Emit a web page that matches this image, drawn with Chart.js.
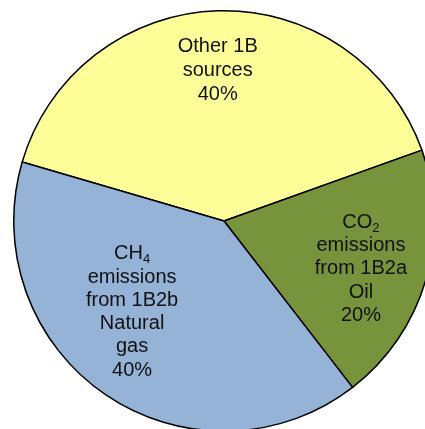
<!DOCTYPE html>
<html>
<head>
<meta charset="utf-8">
<script src="https://cdn.jsdelivr.net/npm/chart.js@4"></script>
<style>
  html, body { margin: 0; padding: 0; background: #fff; overflow: hidden; width: 425px; height: 429px; }
  #wrap { position: absolute; left: 13px; top: 10px; width: 422px; height: 422px; }
</style>
</head>
<body>
<div id="wrap"><canvas id="chart"></canvas></div>
<script>
// data
const categories = ["Other 1B sources", "CO2 emissions from 1B2a Oil", "CH4 emissions from 1B2b Natural gas"]
const shares = [40, 20, 40]
// label lines, "_" marks a subscript
const labelLines = [
    ["Other 1B", "sources"],
    ["CO_2", "emissions", "from 1B2a", "Oil"],
    ["CH_4", "emissions", "from 1B2b", "Natural", "gas"],
]
const sliceColors = ["#ffff99", "#77933c", "#95b3d7"]

// where the label block sits inside each slice: radius fraction, angle nudge (deg)
const labelLayout = [
    { frac: 0.716, nudge: -0.7, lineHeight: 24 },
    { frac: 0.69, nudge: 3, lineHeight: 23.3 },
    { frac: 0.615, nudge: 11, lineHeight: 23.3 },
]

const FONT = "20px 'Liberation Sans', Arial, sans-serif"
const SUB_FONT = "13px 'Liberation Sans', Arial, sans-serif"

const measureLine = (ctx, line) => {
    const [main, sub] = line.split("_")
    ctx.font = FONT
    let w = ctx.measureText(main).width
    if (sub) {
        ctx.font = SUB_FONT
        w += ctx.measureText(sub).width
    }
    return w
}

const drawLine = (ctx, line, cx, cy) => {
    const [main, sub] = line.split("_")
    let x = cx - measureLine(ctx, line) / 2
    ctx.font = FONT
    ctx.fillText(main, x, cy)
    if (sub) {
        x += ctx.measureText(main).width
        ctx.font = SUB_FONT
        ctx.fillText(sub, x, cy + 6)
    }
}

const sliceLabels = {
    id: "sliceLabels",
    afterDatasetsDraw(chart) {
        const ctx = chart.ctx
        const meta = chart.getDatasetMeta(0)
        ctx.save()
        ctx.fillStyle = "#111"
        ctx.textAlign = "left"
        ctx.textBaseline = "middle"
        meta.data.forEach((arc, i) => {
            const p = arc.getProps(["x", "y", "startAngle", "endAngle", "outerRadius"], true)
            const lay = labelLayout[i]
            const mid = (p.startAngle + p.endAngle) / 2 + (lay.nudge * Math.PI) / 180
            const r = p.outerRadius * lay.frac
            const cx = p.x + Math.cos(mid) * r
            const cy = p.y + Math.sin(mid) * r
            const lines = [...labelLines[i], shares[i] + "%"]
            const top = cy - ((lines.length - 1) * lay.lineHeight) / 2
            lines.forEach((line, j) => drawLine(ctx, line, cx, top + j * lay.lineHeight))
        })
        ctx.restore()
    },
}

new Chart(document.getElementById("chart"), {
    type: "pie",
    data: {
        labels: categories,
        datasets: [
            {
                data: shares,
                backgroundColor: sliceColors,
                borderColor: "#000",
                borderWidth: 1.5,
            },
        ],
    },
    plugins: [sliceLabels],
    options: {
        responsive: true,
        maintainAspectRatio: false,
        animation: false,
        rotation: 286.3,
        layout: { padding: 0 },
        plugins: {
            legend: { display: false },
            tooltip: { enabled: false },
        },
    },
})
</script>
</body>
</html>
